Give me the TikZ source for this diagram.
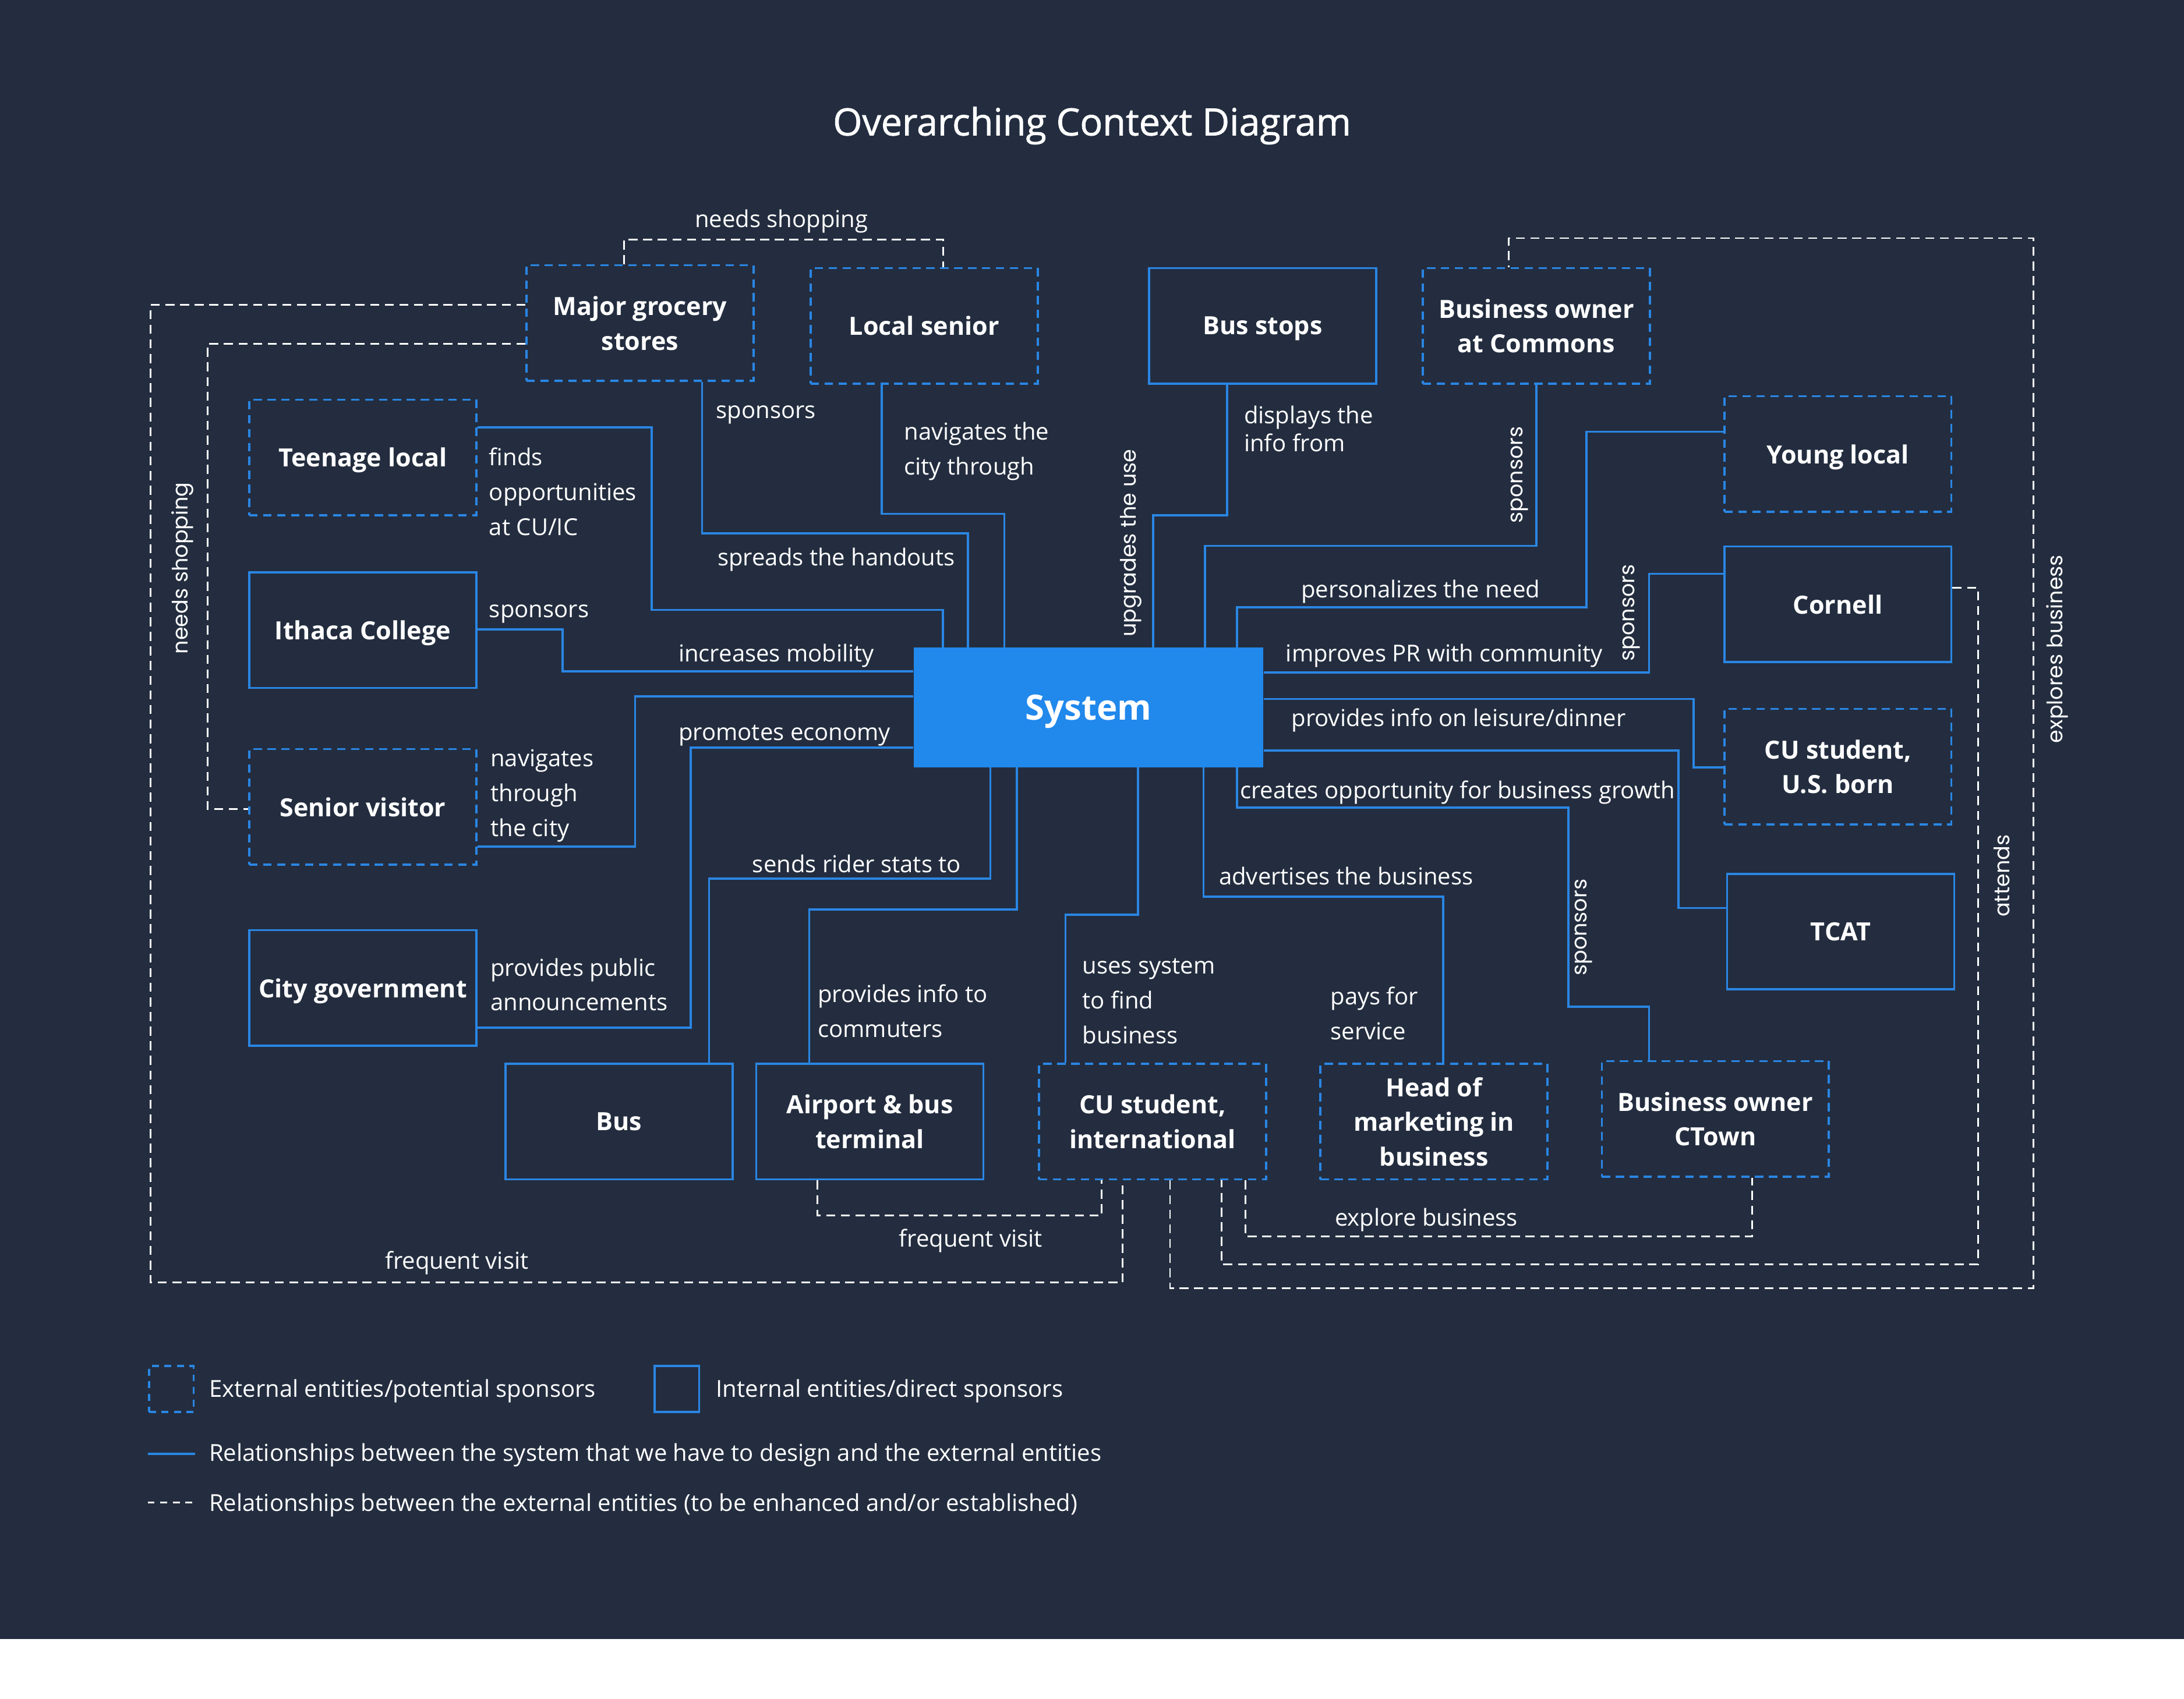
\documentclass[tikz,border=0pt]{standalone}
\usepackage{fontspec}
\setmainfont{Open Sans}
\newfontfamily\rotfont{Poppins}
\newfontfamily\titlefont{Open Sans}[FakeBold=1.2]
\usepackage{xcolor}
\usepackage{tikz}
\usetikzlibrary{positioning,calc}

\definecolor{navy}{HTML}{232D3F}
\definecolor{sysblue}{HTML}{2188EC}
\definecolor{lineblue}{HTML}{2A86E4}

\tikzset{
    entity/.style={draw=lineblue, line width=1.5pt, minimum width=163pt, minimum height=83pt,
        inner sep=0pt, align=center, text=white, text depth=0pt, font=\fontsize{18}{25}\selectfont\bfseries},
    extbox/.style={entity, dash pattern=on 6pt off 4pt},
    rel/.style={draw=lineblue, line width=1.5pt},
    extrel/.style={draw=white, line width=1.2pt, dash pattern=on 6.5pt off 4pt},
    lbl/.style={anchor=west, inner sep=0pt, text=white, align=left, text depth=0pt, font=\fontsize{16.75}{25}\selectfont},
    vlbl/.style={inner sep=0pt, text=white, rotate=90, font=\rotfont\fontsize{15.3}{18}\selectfont}
}

\begin{document}
\begin{tikzpicture}[x=1pt, y=-1pt]
    \useasboundingbox (0,0) rectangle (1568,1220);
    \fill[white] (0,0) rectangle (1568,1220);
    \fill[navy] (0,0) rectangle (1568,1177);

    \node[text=white, text depth=0pt, font=\titlefont\fontsize{27}{32}\selectfont] (title) at (784,87) {Overarching Context Diagram};

    % entities
    \node[extbox] (groc) at (459.5,232) {Major grocery\\stores};
    \node[extbox] (lsen) at (663.5,234) {Local senior};
    \node[entity] (bstop) at (906.5,234) {Bus stops};
    \node[extbox] (boc) at (1103,234) {Business owner\\at Commons};
    \node[extbox] (teen) at (260.5,328.5) {Teenage local};
    \node[entity] (ic) at (260.5,452.5) {Ithaca College};
    \node[extbox] (svis) at (260.5,579.5) {Senior visitor};
    \node[entity] (cgov) at (260.5,709.5) {City government};
    \node[extbox] (young) at (1319.5,326) {Young local};
    \node[entity] (corn) at (1319.5,434) {Cornell};
    \node[extbox] (cuus) at (1319.5,550.5) {CU student,\\U.S. born};
    \node[entity] (tcat) at (1321.5,669) {TCAT};
    \node[entity] (bus) at (444.5,805.5) {Bus};
    \node[entity] (airp) at (624.5,805.5) {Airport \& bus\\terminal};
    \node[extbox] (cuint) at (827.5,805.5) {CU student,\\international};
    \node[extbox] (head) at (1029.5,805.5) {Head of\\marketing in\\business};
    \node[extbox] (ctown) at (1231.5,803.5) {Business owner\\CTown};

    \node[fill=sysblue, minimum width=251pt, minimum height=86pt, inner sep=0pt, text=white, text depth=0pt,
        font=\fontsize{25}{30}\selectfont\bfseries] (sys) at (781.5,508) {System};

    % system relationships
    \draw[rel] (groc.south -| 504,0) |- (695,383) -- (sys.north -| 695,0);
    \draw[rel] (teen.east |- 0,307) -- (468,307) |- (677,438) -- (sys.north -| 677,0);
    \draw[rel] (ic.east |- 0,452) -- (404,452) |- (sys.west |- 0,482);
    \draw[rel] (lsen.south -| 633,0) |- (721,369) -- (sys.north -| 721,0);
    \draw[rel] (bstop.south -| 881,0) |- (828,370) -- (sys.north -| 828,0);
    \draw[rel] (boc.south) |- (865,392) -- (sys.north -| 865,0);
    \draw[rel] (young.west |- 0,310) -- (1139,310) |- (888,436) -- (sys.north -| 888,0);
    \draw[rel] (corn.west |- 0,412) -- (1184,412) |- (sys.east |- 0,483);
    \draw[rel] (cuus.west |- 0,551) -- (1216,551) |- (sys.east |- 0,502);
    \draw[rel] (tcat.west |- 0,652) -- (1205,652) |- (sys.east |- 0,539);
    \draw[rel] (ctown.north -| 1184,0) |- (1126,723) |- (888,580) -- (sys.south -| 888,0);
    \draw[rel] (head.north -| 1036,0) |- (864,644) -- (sys.south -| 864,0);
    \draw[rel] (cuint.north -| 765,0) |- (817,657) -- (sys.south -| 817,0);
    \draw[rel] (airp.north -| 581,0) |- (730,653) -- (sys.south -| 730,0);
    \draw[rel] (bus.north -| 509,0) |- (711,631) -- (sys.south -| 711,0);
    \draw[rel] (cgov.east |- 0,738) -- (496,738) |- (sys.west |- 0,537);
    \draw[rel] (svis.east |- 0,608) -- (456,608) |- (sys.west |- 0,500);

    % relationships between externals
    \draw[extrel] (groc.north -| 448,0) |- (677,172) -- (lsen.north -| 677,0);
    \draw[extrel] (groc.west |- 0,219) -| (108,921) -| (cuint.south -| 806,0);
    \draw[extrel] (groc.west |- 0,247) -| (149,581) -- (svis.west |- 0,581);
    \draw[extrel] (airp.south -| 587,0) |- (791,873) -- (cuint.south -| 791,0);
    \draw[extrel] (cuint.south -| 840,0) |- (1460,925) |- (1083,171) -- (boc.north -| 1083,0);
    \draw[extrel] (corn.east |- 0,422) -| (1420,908) -| (cuint.south -| 877,0);
    \draw[extrel] (cuint.south -| 894,0) |- (1258,888) -- (ctown.south -| 1258,0);

    % labels
    \node[lbl, anchor=center] (needsA) at (561,157) {needs shopping};
    \node[vlbl] (needsB) at (131,408) {needs shopping};
    \node[lbl] (grocsp) at (514,296) {sponsors};
    \node[lbl] (handouts) at (515,400) {spreads the handouts};
    \node[lbl] (finds) at (351,353) {finds\\opportunities\\at CU/IC};
    \node[lbl] (navthe) at (649,322) {navigates the\\city through};
    \node[lbl, font=\fontsize{16.75}{20}\selectfont] (displays) at (893,308) {displays the\\info from};
    \node[vlbl] (upgrades) at (812,390) {upgrades the use};
    \node[lbl] (icsp) at (351,439) {sponsors};
    \node[lbl] (mobility) at (487,469) {increases mobility};
    \node[vlbl] (bocsp) at (1091,341) {sponsors};
    \node[lbl] (personal) at (934,423) {personalizes the need};
    \node[vlbl] (cornsp) at (1171,440) {sponsors};
    \node[lbl] (improves) at (923,469) {improves PR with community};
    \node[lbl] (leisure) at (927,515) {provides info on leisure/dinner};
    \node[lbl] (growth) at (890,567) {creates opportunity for business growth};
    \node[lbl] (economy) at (487,526) {promotes economy};
    \node[lbl] (navthrough) at (352,569.5) {navigates\\through\\the city};
    \node[lbl] (riderstats) at (540,620) {sends rider stats to};
    \node[lbl] (announce) at (352,707) {provides public\\announcements};
    \node[lbl] (commuters) at (587,726) {provides info to\\commuters};
    \node[lbl] (usesys) at (777,719) {uses system\\to find\\business};
    \node[lbl] (advert) at (875,629) {advertises the business};
    \node[lbl] (pays) at (955,727.5) {pays for\\service};
    \node[vlbl] (ctownsp) at (1137,666) {sponsors};
    \node[vlbl] (attends) at (1437,629) {attends};
    \node[vlbl] (explores) at (1477,466) {explores business};
    \node[lbl, anchor=center] (freqA) at (328,905) {frequent visit};
    \node[lbl, anchor=center] (freqB) at (697,889) {frequent visit};
    \node[lbl, anchor=center] (explore) at (1024,874) {explore business};

    % legend
    \node[extbox, minimum width=32pt, minimum height=33pt, dash pattern=on 5pt off 4pt] (lgext) at (123,997.5) {};
    \node[lbl] (lgexttxt) at (150,997) {External entities/potential sponsors};
    \node[entity, minimum width=32pt, minimum height=33pt] (lgint) at (486,997.5) {};
    \node[lbl] (lginttxt) at (514,997) {Internal entities/direct sponsors};
    \coordinate (lgrelA) at (106,1044);
    \coordinate (lgrelB) at (140,1044);
    \draw[rel] (lgrelA) -- (lgrelB);
    \node[lbl] (lgreltxt) at (150,1043) {Relationships between the system that we have to design and the external entities};
    \coordinate (lgextA) at (106,1079);
    \coordinate (lgextB) at (140,1079);
    \draw[extrel, dash pattern=on 5pt off 4pt] (lgextA) -- (lgextB);
    \node[lbl] (lgextreltxt) at (150,1079) {Relationships between the external entities (to be enhanced and/or established)};
\end{tikzpicture}
\end{document}
